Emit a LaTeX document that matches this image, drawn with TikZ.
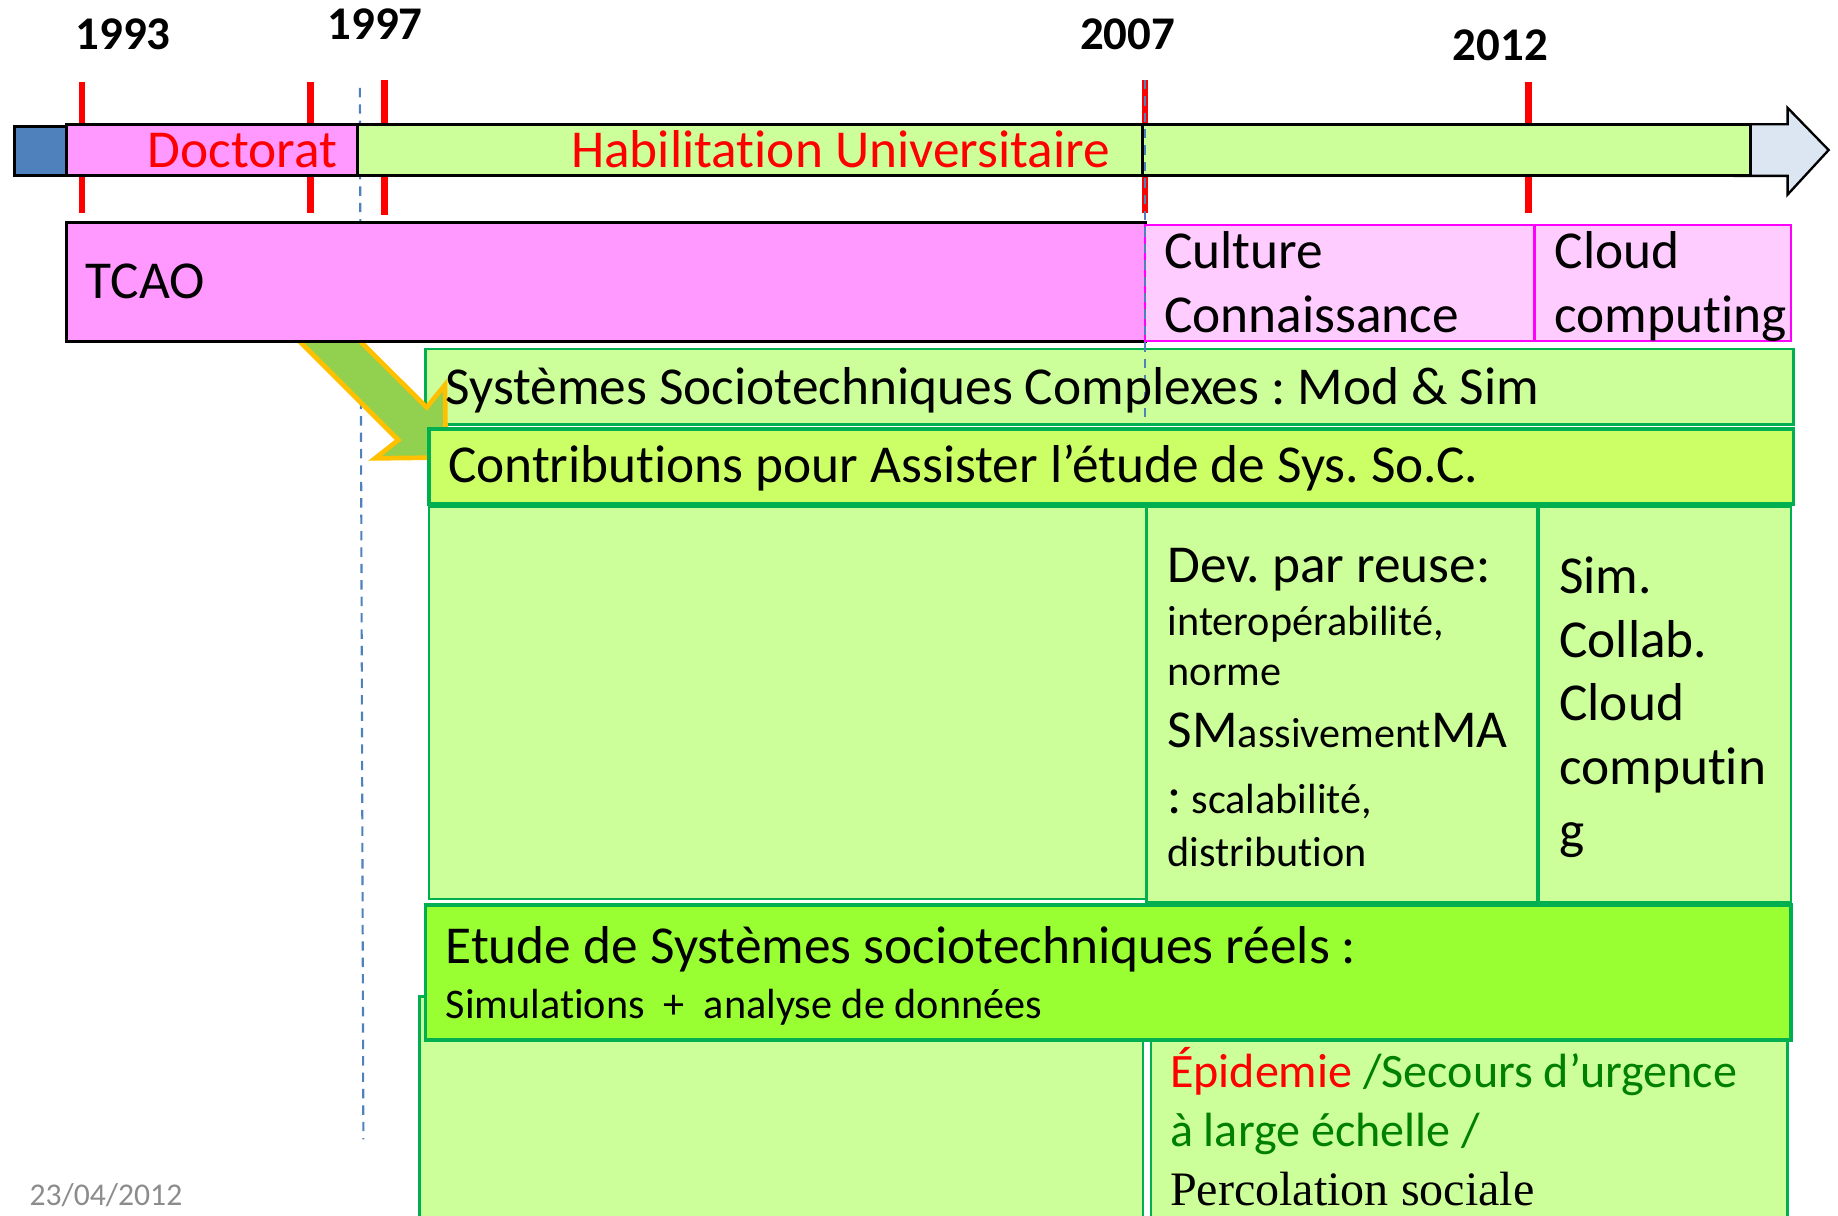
\documentclass[tikz,border=0pt]{standalone}
\usepackage{fontspec}
\setmainfont{Carlito}[Ligatures=NoCommon]
\newfontfamily\timesfont{Liberation Serif}
\usetikzlibrary{positioning}
\frenchspacing

\definecolor{barblue}{HTML}{4F81BD}
\definecolor{headblue}{HTML}{DCE6F2}
\definecolor{doctpink}{HTML}{FF99FF}
\definecolor{lightpink}{HTML}{FFCCFF}
\definecolor{pinkedge}{HTML}{FF00FF}
\definecolor{lightgreen}{HTML}{CCFF99}
\definecolor{yellowgreen}{HTML}{CCFF66}
\definecolor{brightgreen}{HTML}{99FF33}
\definecolor{boxgreen}{HTML}{00B050}
\definecolor{arrowgreen}{HTML}{92D050}
\definecolor{arrowgold}{HTML}{FFC000}
\definecolor{textgreen}{HTML}{008000}
\definecolor{dategray}{HTML}{8C8C8C}
\definecolor{dashblue}{HTML}{4F81BD}

\tikzset{
  yeartick/.style={red, line width=5.5pt},
  yearlabel/.style={font=\fontsize{40}{46}\selectfont\bfseries, inner sep=0pt, anchor=base},
  bigtxt/.style={font=\fontsize{45.5}{54}\selectfont, inner sep=0pt, anchor=base west},
  smalltxt/.style={font=\fontsize{36}{43}\selectfont, inner sep=0pt, anchor=base west},
  epitxt/.style={font=\fontsize{41}{48}\selectfont, inner sep=0pt, anchor=base west},
  barbox/.style={draw=black, line width=2.5pt},
  pinkbox/.style={fill=lightpink, draw=pinkedge, line width=2pt},
  greenbox/.style={fill=lightgreen, draw=boxgreen, line width=2pt},
  guide/.style={dashblue, line width=1.8pt, dash pattern=on 8pt off 6pt}
}

\begin{document}
\begin{tikzpicture}[x=1pt, y=-1pt]
\useasboundingbox (0,0) rectangle (1568,1037);

    \draw[guide] (307,75) -- (310,972);

    % years
    \draw[yeartick] (70,70) -- (70,182);
    \draw[yeartick] (265,70) -- (265,182);
    \draw[yeartick] (328,68) -- (328,183);
    \draw[yeartick] (977,68) -- (977,182);
    \draw[yeartick] (1304,70) -- (1304,182);

    \node[yearlabel] (y1993) at (105,42) {1993};
    \node[yearlabel] (y1997) at (320,34) {1997};
    \node[yearlabel] (y2007) at (962,42) {2007};
    \node[yearlabel] (y2012) at (1280,52) {2012};

    % timeline bar
    \filldraw[fill=headblue, draw=black, line width=2pt] (1480,106) -- (1525,106) -- (1525,92)
        -- (1560,128) -- (1525,166) -- (1525,150) -- (1480,150) -- cycle;
    \filldraw[barbox, fill=barblue] (12,108) rectangle (57,150);
    \filldraw[barbox, fill=doctpink] (57,106) rectangle (305,150);
    \filldraw[barbox, fill=lightgreen] (305,106) rectangle (975,150);
    \filldraw[barbox, fill=lightgreen] (975,106) rectangle (1493,150);

    \node[bigtxt, anchor=base east, text=red] (doct) at (288,143) {Doctorat};
    \node[bigtxt, text=red] (habil) at (487,143) {Habilitation Universitaire};

    \filldraw[greenbox] (363,298) rectangle (1530,362);

    % big arrow
    \filldraw[fill=arrowgreen, draw=arrowgold, line width=4pt, line join=miter]
        (278,262) -- (364,347.5) -- (379.6,328.4) -- (380.3,390.3)
        -- (320,391) -- (339.8,375.4) -- (252.4,288) -- cycle;

    \filldraw[barbox, fill=doctpink] (57,190) rectangle (977,291);
    \filldraw[pinkbox] (977,192) rectangle (1309,291);
    \filldraw[pinkbox] (1309,192) rectangle (1528,291);

    \draw[guide] (977,68) -- (977,362);

    \filldraw[fill=yellowgreen, draw=boxgreen, line width=3pt] (366,366) rectangle (1530,430);

    \filldraw[greenbox] (366,432) rectangle (978,767);
    \filldraw[greenbox] (978,432) rectangle (1311,770);
    \filldraw[greenbox] (1313,432) rectangle (1528,770);

    \filldraw[greenbox] (358,850) rectangle (975,1045);
    \filldraw[greenbox] (982,887) rectangle (1525,1045);
    \filldraw[fill=brightgreen, draw=boxgreen, line width=3pt] (363,772) rectangle (1528,887);

    % texts
    \node[bigtxt] (tcao) at (73,255) {TCAO};
    \node[bigtxt] (culture) at (993,229) {Culture};
    \node[bigtxt] (connaiss) at (993,284) {Connaissance};
    \node[bigtxt] (cloud) at (1326,229) {Cloud};
    \node[bigtxt] (computing) at (1326,284) {computing};

    \node[bigtxt] (sysso) at (380,345) {Systèmes Sociotechniques Complexes : Mod \& Sim};
    \node[bigtxt] (contrib) at (382,412) {Contributions pour Assister l’étude de Sys. So.C.};

    \node[bigtxt] (dev) at (996,497) {Dev. par reuse:};
    \node[smalltxt] (interop) at (996,542) {interopérabilité,};
    \node[smalltxt] (norme) at (996,585) {norme};
    \node[bigtxt] (smma) at (996,638) {SM{\fontsize{36}{43}\selectfont assivement}MA};
    \node[bigtxt] (scal) at (996,694) {:{\fontsize{36}{43}\selectfont\ scalabilité,}};
    \node[smalltxt] (distrib) at (996,739) {distribution};

    \node[bigtxt] (sim) at (1330,506) {Sim.};
    \node[bigtxt] (collab) at (1330,561) {Collab.};
    \node[bigtxt] (cloudb) at (1330,615) {Cloud};
    \node[bigtxt] (computin) at (1330,669) {computin};
    \node[bigtxt] (gletter) at (1330,724) {g};

    \node[bigtxt] (etude) at (380,822) {Etude de Systèmes sociotechniques réels :};
    \node[smalltxt] (simul) at (380,869) {Simulations~~+~~analyse de données};

    \node[epitxt] (epid) at (998,928) {\textcolor{red}{Épidemie} \textcolor{textgreen}{/Secours d’urgence}};
    \node[epitxt, text=textgreen] (echelle) at (998,978) {à large échelle /};
    \node[epitxt, font=\fontsize{41}{48}\selectfont\timesfont] (percol) at (998,1028) {Percolation sociale};

    \node[font=\fontsize{27}{32}\selectfont, text=dategray, inner sep=0pt, anchor=base west] (date) at (25,1028) {23/04/2012};

\end{tikzpicture}
\end{document}
